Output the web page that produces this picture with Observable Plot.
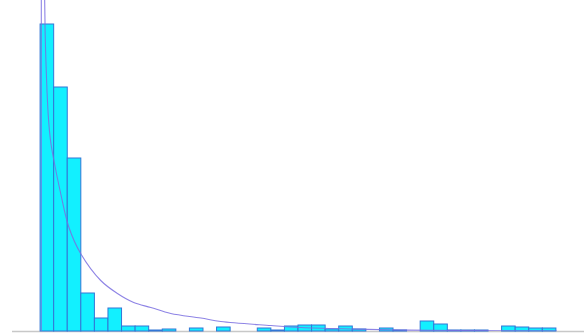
<!DOCTYPE html>
<html>
<head>
<meta charset="utf-8">
<script src="https://cdn.jsdelivr.net/npm/d3@7"></script>
<script src="https://cdn.jsdelivr.net/npm/@observablehq/plot@0.6"></script>
<style>
  html, body { margin: 0; padding: 0; background: #fff; }
  #chart svg { display: block; }
</style>
</head>
<body>
<div id="chart"></div>
<script>
// Histogram bin counts (bin i spans [i, i+1])
const binCounts = [307, 244, 173, 38, 13, 23, 5, 5, 1, 2,
                   0, 3, 0, 4, 0, 0, 3, 1, 5, 6,
                   6, 2, 5, 2, 0, 3, 1, 0, 10, 7,
                   1, 1, 1, 0, 5, 4, 3, 3];

// Fitted density curve
const curveX = [0.05, 0.055, 0.1, 0.18, 0.26, 0.30, 0.36, 0.47, 0.59, 0.74, 0.98, 1.48,
                2.09, 2.95, 4.43, 5.66, 6.86, 8.12, 9.59, 11.81, 13.28, 16.97,
                19.19, 22.88, 26.57, 31.0, 38.0];
const curveY = [0, 400, 650, 700, 480, 331, 285, 241, 211, 190, 171, 138,
                104, 78, 51, 38, 29, 24, 18, 13.5, 10, 6,
                4, 2.5, 1.5, 1, 0.5];

const bins = binCounts.map((c, i) => ({x1: i, x2: i + 1, count: c}));
const curve = curveX.map((x, i) => ({x, y: curveY[i]}));

const chart = Plot.plot({
  width: 584,
  height: 333,
  marginLeft: 12,
  marginRight: 0,
  marginTop: 0,
  marginBottom: 2,
  x: {domain: [-2.07, 40.07], axis: null},
  y: {domain: [0, 331], axis: null},
  marks: [
    Plot.ruleY([0], {stroke: "#c8c8c8", strokeWidth: 1.5}),
    Plot.rectY(bins, {x1: "x1", x2: "x2", y: "count", fill: "#12f0ff", stroke: "#3276d6", strokeWidth: 1, inset: 0}),
    Plot.line(curve, {x: "x", y: "y", stroke: "#7a6ee0", strokeOpacity: 0.85, strokeWidth: 1.1, curve: "catmull-rom", clip: true})
  ]
});
document.getElementById("chart").appendChild(chart);
</script>
</body>
</html>
